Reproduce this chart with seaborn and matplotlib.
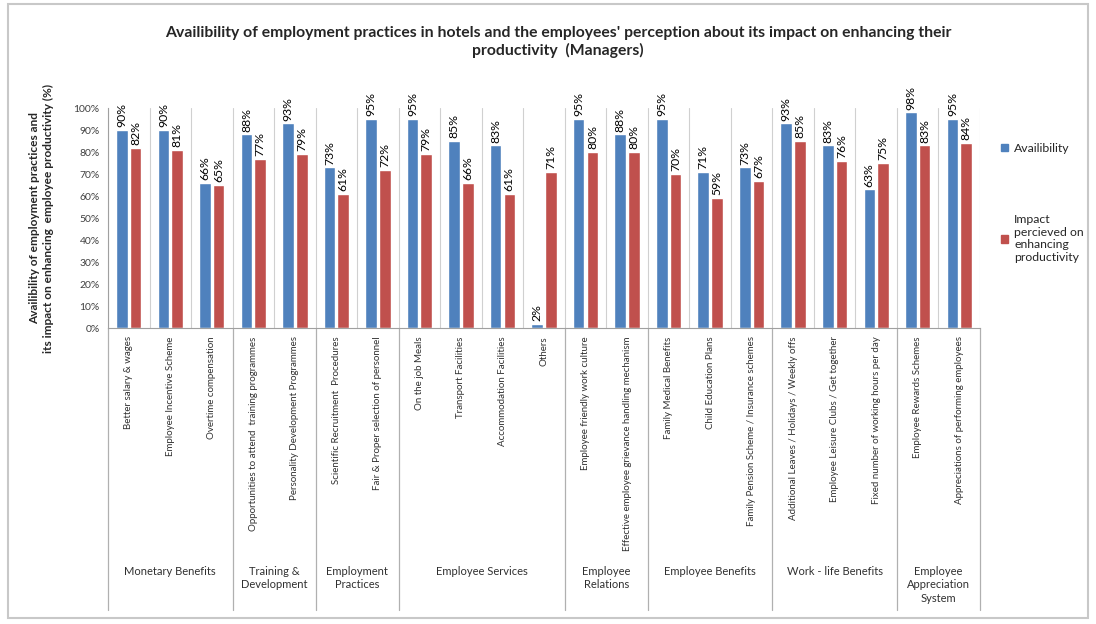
import numpy as np
import pandas as pd
import seaborn as sns
import matplotlib.pyplot as plt
from matplotlib.patches import Rectangle
from matplotlib.ticker import FuncFormatter, FixedLocator
import matplotlib.transforms as mtrans

practices = ['Better salary & wages', 'Employee Incentive Scheme', 'Overtime compensation',
             'Opportunities to attend  training programmes', 'Personality Development Programmes',
             'Scientific Recruitment  Procedures', 'Fair & Proper selection of personnel',
             'On the job Meals', 'Transport Facilities', 'Accommodation Facilities', 'Others',
             'Employee friendly work culture', 'Effective employee grievance handling mechanism',
             'Family Medical Benefits', 'Child Education Plans',
             'Family Pension Scheme / Insurance schemes',
             'Additional Leaves / Holidays / Weekly offs', 'Employee Leisure Clubs / Get together',
             'Fixed number of working hours per day',
             'Employee Rewards Schemes', 'Appreciations of performing employees']
availability = [90, 90, 66, 88, 93, 73, 95, 95, 85, 83, 2, 95, 88, 95, 71, 73, 93, 83, 63, 98, 95]
impact = [82, 81, 65, 77, 79, 61, 72, 79, 66, 61, 71, 80, 80, 70, 59, 67, 85, 76, 75, 83, 84]
group_names = ['Monetary Benefits', 'Training &\nDevelopment', 'Employment\nPractices',
               'Employee Services', 'Employee\nRelations', 'Employee Benefits',
               'Work - life Benefits', 'Employee\nAppreciation\nSystem']
group_sizes = [3, 2, 2, 4, 2, 3, 3, 2]
series_names = ['Availibility', 'Impact\npercieved on\nenhancing\nproductivity']
colors = ['#4F81BD', '#C0504D']

df = pd.DataFrame({'practice': practices * 2,
                   'value': availability + impact,
                   'series': [series_names[0]] * len(practices) + [series_names[1]] * len(practices)})

sns.set_style('white')
plt.rcParams['font.family'] = ['Lato', 'DejaVu Sans']

fig = plt.figure(figsize=(10.96, 6.24), dpi=100)
ax = fig.add_axes([108 / 1096, 1 - 328 / 624, (980 - 108) / 1096, 220 / 624])

sns.barplot(data=df, x='practice', y='value', hue='series', order=practices,
            hue_order=series_names, palette=colors, width=0.66, gap=0.15,
            saturation=1, ax=ax, legend=False)

for cont in ax.containers:
    ax.bar_label(cont, labels=['%d%%' % v for v in cont.datavalues], rotation=90,
                 padding=2, fontsize=8.8, color='black')

ax.set_ylim(0, 100)
ax.set_xlim(-0.5, len(practices) - 0.5)
ax.yaxis.set_major_locator(FixedLocator(np.arange(0, 101, 10)))
ax.yaxis.set_major_formatter(FuncFormatter(lambda v, p: '%d%%' % v))
ax.tick_params(axis='y', labelsize=7.5, colors='#404040', length=0, pad=6)
ax.tick_params(axis='x', labelsize=7, colors='#303030', length=0, pad=6)
ax.set_xticks(range(len(practices)))
ax.set_xticklabels(practices, rotation=90, va='top')
ax.set_xlabel('')
ax.set_ylabel('Availibility of employment practices and\nits impact on enhancing  employee productivity (%)',
              fontsize=8.6, fontweight='bold', labelpad=14, linespacing=1.3)

# light separators between categories
ax.set_xticks(np.arange(len(practices) + 1) - 0.5, minor=True)
ax.grid(which='minor', axis='x', color='#d0d0d0', linewidth=0.8)
ax.tick_params(axis='x', which='minor', length=4, color='#a0a0a0')
for s in ['top', 'right']:
    ax.spines[s].set_visible(False)
ax.spines['left'].set_color('#a0a0a0')
ax.spines['bottom'].set_color('#a0a0a0')

# group separators and group names below the axis
trans = mtrans.blended_transform_factory(ax.transData, ax.transAxes)
edges = np.concatenate([[0], np.cumsum(group_sizes)]) - 0.5
for e in edges:
    ax.plot([e, e], [0, -1.28], transform=trans, color='#b0b0b0', linewidth=0.9, clip_on=False)
for name, a, b in zip(group_names, edges[:-1], edges[1:]):
    ax.text((a + b) / 2, -1.08, name, transform=trans, ha='center', va='top',
            fontsize=8, color='#303030', linespacing=1.3)

fig.suptitle("Availibility of employment practices in hotels and the employees' perception about its impact on enhancing their\nproductivity  (Managers)",
             x=558 / 1096, y=1 - 26 / 624, fontsize=11.3, fontweight='bold', va='top', linespacing=1.25)

handles = [Rectangle((0, 0), 1, 1, color=c) for c in colors]
fig.legend(handles, series_names, loc='upper left', bbox_to_anchor=(996 / 1096, 1 - 138 / 624),
           frameon=False, fontsize=8.8, handlelength=0.6, handleheight=0.6, handletextpad=0.5,
           labelspacing=4.9, borderaxespad=0)

fig.patches.append(Rectangle((8 / 1096, 6 / 624), 1080 / 1096, 614 / 624, transform=fig.transFigure,
                             fill=False, edgecolor='#c8c8c8', linewidth=1.5))

fig.savefig('out.png', dpi=100)
